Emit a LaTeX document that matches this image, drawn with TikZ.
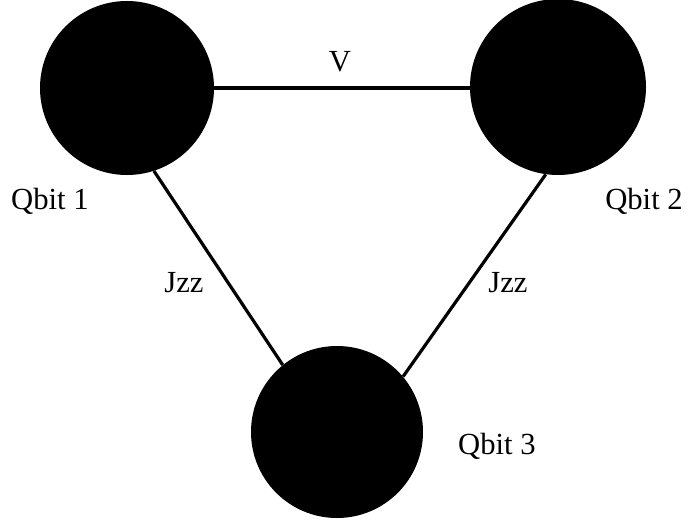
\documentclass[tikz,border=0pt]{standalone}
\usepackage{fontspec}
\setmainfont{Liberation Serif}
\begin{document}
\begin{tikzpicture}[x=0.75pt,y=-0.75pt,
  qb/.style={draw=none, fill=black, inner sep=0pt, shape=circle},
  lbl/.style={font=\fontsize{23}{27}\selectfont, inner sep=0pt},
  link/.style={line width=2.4pt}]
\useasboundingbox[fill=white] (0,0) rectangle (688,524);
\node[qb, minimum size=130.5pt] (q1) at (127,88) {};
\node[qb, minimum size=132pt] (q2) at (558,87) {};
\node[qb, minimum size=129pt] (q3) at (337,432) {};
\draw[link] (q1.east) -- (q1.east -| q2.center);
\draw[link] (q1.-72) -- (q3.129);
\draw[link] (q2.-98) -- (q3.40);
\node[lbl] (v) at (340,62) {V};
\node[lbl] (l1) at (50,201) {Qbit 1};
\node[lbl] (l2) at (644,201) {Qbit 2};
\node[lbl] (l3) at (497,446) {Qbit 3};
\node[lbl] (j1) at (184,283) {Jzz};
\node[lbl] (j2) at (508,283) {Jzz};
\end{tikzpicture}
\end{document}
